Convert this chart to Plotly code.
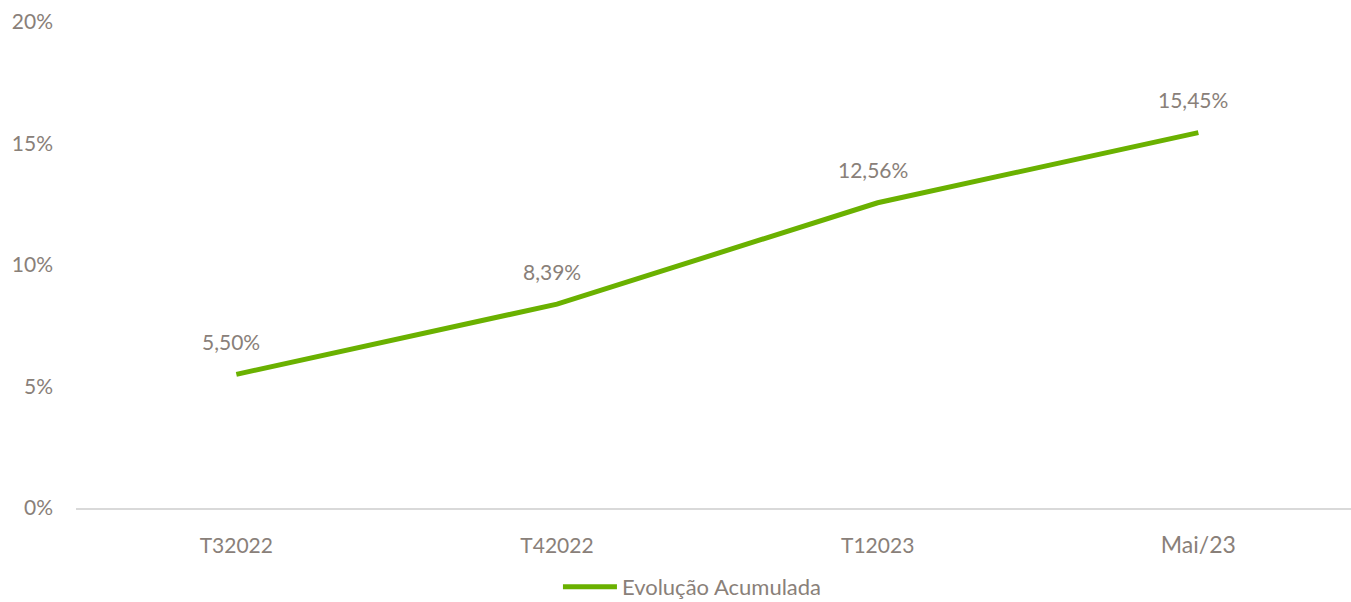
import plotly.graph_objects as go

categories = ["T32022", "T42022", "T12023", "Mai/23"]
values = [5.50, 8.39, 12.56, 15.45]
value_labels = ["5,50%", "8,39%", "12,56%", "15,45%"]
tick_vals_y = [0, 5, 10, 15, 20]
tick_text_y = ["0%", "5%", "10%", "15%", "20%"]
series_name = "Evolução Acumulada"

GREEN = "#6AB100"
TEXT = "#898079"
FONT = "Lato"

tick_text_x = categories[:-1] + ["<span style='font-size:23px'>" + categories[-1] + "</span>"]

fig = go.Figure()
fig.add_trace(go.Scatter(
    x=list(range(len(categories))), y=values, mode="lines", name=series_name,
    line=dict(color=GREEN, width=5), hoverinfo="skip",
))

for i, (v, lab) in enumerate(zip(values, value_labels)):
    fig.add_annotation(x=i, y=v, text=lab, showarrow=False, yshift=33, xshift=-5,
                       font=dict(family=FONT, size=21, color=TEXT))

fig.update_layout(
    width=1351, height=602,
    margin=dict(l=76, r=0, t=22, b=94, autoexpand=False),
    paper_bgcolor="white", plot_bgcolor="white",
    font=dict(family=FONT, size=21, color=TEXT),
    showlegend=True,
    legend=dict(orientation="h", x=0.378, xanchor="left", y=-0.2058, yanchor="bottom",
                font=dict(family=FONT, size=22, color=TEXT), itemwidth=54),
)
fig.update_xaxes(
    range=[-0.5, 3.476], tickvals=list(range(len(categories))), ticktext=tick_text_x,
    showgrid=False, zeroline=False, showline=True, linecolor="#D9D9D9", linewidth=2,
    ticks="", ticklabelstandoff=18, tickfont=dict(family=FONT, size=21, color=TEXT),
    automargin=False,
)
fig.update_yaxes(
    range=[0, 20], tickvals=tick_vals_y, ticktext=tick_text_y,
    showgrid=False, zeroline=False, showline=False,
    ticks="", ticklabelstandoff=22, tickfont=dict(family=FONT, size=21, color=TEXT),
    automargin=False,
)

fig.write_html(
    "out.html",
    config={"displayModeBar": False},
    post_script="document.body.style.margin='0';document.body.style.overflow='hidden';",
)
